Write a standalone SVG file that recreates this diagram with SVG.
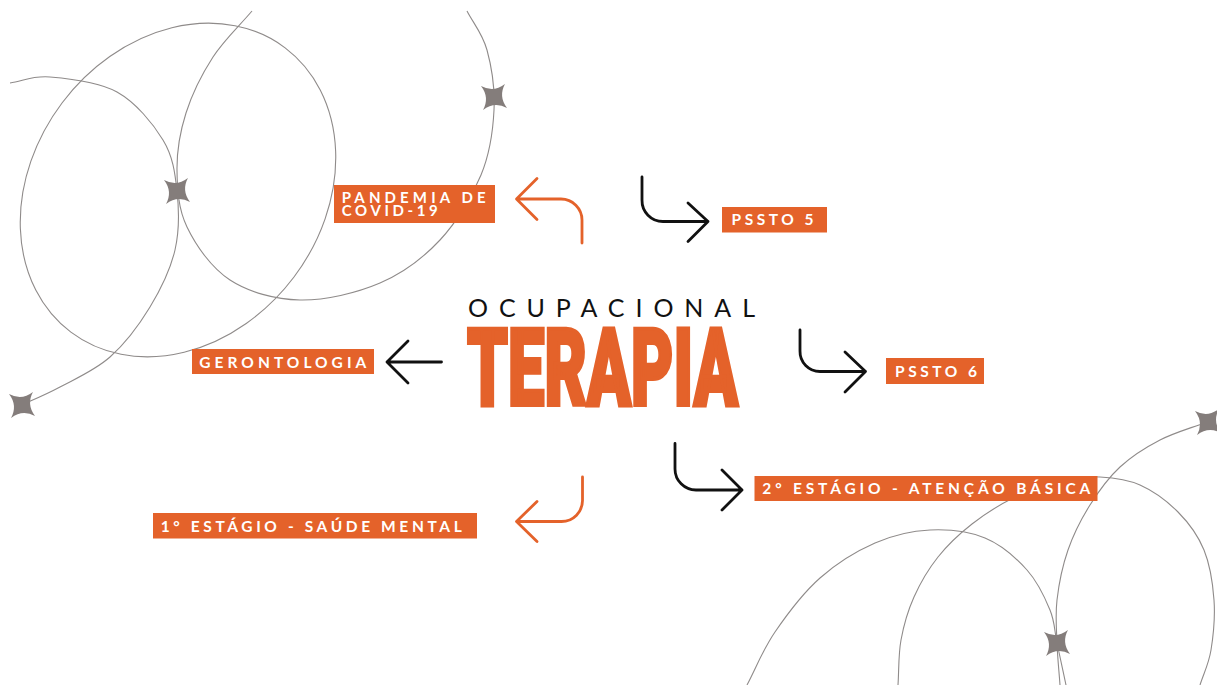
<svg xmlns="http://www.w3.org/2000/svg" width="1217" height="685" viewBox="0 0 1217 685">
<defs>
<style>
.deco{fill:none;stroke:#8f8b8a;stroke-width:1.1}
.star{fill:#847d7b}
.box{fill:#e4622a}
.lbl{font-family:Lato,'Noto Sans','Liberation Sans',sans-serif;font-size:15.5px;font-weight:700;fill:#ffffff}
.ak{fill:none;stroke:#111111;stroke-width:2.8;stroke-linecap:round;stroke-linejoin:round}
.ao{fill:none;stroke:#e4622a;stroke-width:2.8;stroke-linecap:round;stroke-linejoin:round}
</style>
<path id="star" d="M17,0 Q3,3 0,17 Q-3,3 -17,0 Q-3,-3 0,-17 Q3,-3 17,0Z"/>
</defs>
<rect width="1217" height="685" fill="#ffffff"/>
<g id="decoration">
<path class="deco" d="M10,83 C23.3,81 32.2,75.5 50,77 C67.8,78.5 98.2,81.5 117,92 C135.8,102.5 153,123.5 163,140 C173,156.5 175,172.7 177,191 C179,209.3 179.5,230.7 175,250 C170.5,269.3 160.8,289.2 150,307 C139.2,324.8 125,343.7 110,357 C95,370.3 75.8,378.5 60,387 C44.2,395.5 30,401 15,408"/>
<ellipse class="deco" cx="0" cy="0" rx="178" ry="145" transform="translate(178,190) rotate(-53)"/>
<path class="deco" d="M252,11 C239,26.3 224,40 213,57 C202,74 192,94.2 186,113 C180,131.8 176.8,151 177,170 C177.2,189 178.2,208.7 187,227 C195.8,245.3 211.2,267.8 230,280 C248.8,292.2 275,299.5 300,300 C325,300.5 356.7,293 380,283 C403.3,273 423.2,258 440,240 C456.8,222 472,196.7 481,175 C490,153.3 493,130.8 494,110 C495,89.2 491.5,66.5 487,50 C482.5,33.5 473.7,24 467,11"/>
<path class="deco" d="M1207,422 C1191.3,428 1174.5,432.5 1160,440 C1145.5,447.5 1131.7,456.2 1120,467 C1108.3,477.8 1098.7,491.2 1090,505 C1081.3,518.8 1073.5,534.2 1068,550 C1062.5,565.8 1058.8,584.5 1057,600 C1055.2,615.5 1056.5,628.8 1057,643 C1057.5,657.2 1059,671 1060,685"/>
<path class="deco" d="M898,685 C899,670 898.3,654.7 901,640 C903.7,625.3 907.8,610.8 914,597 C920.2,583.2 928.3,569.2 938,557 C947.7,544.8 959.2,534 972,524 C984.8,514 1000.3,504.3 1015,497 C1029.7,489.7 1045.8,483.3 1060,480 C1074.2,476.7 1086.7,476.2 1100,477 C1113.3,477.8 1127,479.2 1140,485 C1153,490.8 1167.3,501.2 1178,512 C1188.7,522.8 1198,535.3 1204,550 C1210,564.7 1212.8,583.3 1214,600 C1215.2,616.7 1213.3,635.8 1211,650 C1208.7,664.2 1203.7,673.3 1200,685"/>
<path class="deco" d="M747,685 C756.3,667.3 762.8,649.8 775,632 C787.2,614.2 803.3,592.8 820,578 C836.7,563.2 856.7,551 875,543 C893.3,535 911.7,530.8 930,530 C948.3,529.2 968.8,531.3 985,538 C1001.2,544.7 1016.2,558 1027,570 C1037.8,582 1045,597.8 1050,610 C1055,622.2 1054.3,630.5 1057,643 C1059.7,655.5 1063,671 1066,685"/>
<use href="#star" class="star" transform="translate(177,191) rotate(40)"/>
<use href="#star" class="star" transform="translate(494,97) rotate(40)"/>
<use href="#star" class="star" transform="translate(22,405) rotate(40)"/>
<use href="#star" class="star" transform="translate(1057,643) rotate(40)"/>
<use href="#star" class="star" transform="translate(1208,422) rotate(40)"/>
</g>
<g id="connectors">
<path class="ao" d="M582,243 V220 A21,21 0 0 0 561,199 H517 M537,178.5 L516.5,199 L537,219.5"/>
<path class="ak" d="M642,177 V200 A21,21 0 0 0 663,221.5 H708 M688,203 L708,221.5 L688,241.5"/>
<path class="ak" d="M441.5,362 H387 M408,341 L387,362 L408,383"/>
<path class="ak" d="M800,330 V351 A20,20 0 0 0 820,371.5 H865.5 M845,352 L865.5,371.5 L845,392"/>
<path class="ak" d="M675,443.5 V469 A21,21 0 0 0 696,490 H742 M722,470 L742,490 L722,510"/>
<path class="ao" d="M582.5,477 V500 A21,21 0 0 1 561.5,521.5 H517 M537,501.5 L516.5,521.5 L537,541.5"/>
</g>
<g id="title">
<text x="468" y="316.7" textLength="287" lengthAdjust="spacing" style="font-family:Lato,'Noto Sans','Liberation Sans',sans-serif;font-size:25px;fill:#111111">OCUPACIONAL</text>
<text x="467" y="404.5" textLength="271" lengthAdjust="spacingAndGlyphs" style="font-family:Roboto,'Liberation Sans',sans-serif;font-size:107px;font-weight:900;fill:#e4622a;stroke:#e4622a;stroke-width:4">TERAPIA</text>
</g>
<g id="node-pandemia">
<rect class="box" x="334" y="185" width="161" height="38"/>
<text class="lbl" x="341.7" y="203.3" textLength="144" lengthAdjust="spacing" style="font-size:15px">PANDEMIA DE</text>
<text class="lbl" x="341.7" y="215.7" textLength="96" lengthAdjust="spacing" style="font-size:15px">COVID-19</text>
</g>
<g id="node-pssto5">
<rect class="box" x="722" y="207" width="105" height="25.5"/>
<text class="lbl" x="731.5" y="225" textLength="82" lengthAdjust="spacing">PSSTO 5</text>
</g>
<g id="node-gerontologia">
<rect class="box" x="192" y="349" width="182" height="25"/>
<text class="lbl" x="199.3" y="368.3" textLength="167" lengthAdjust="spacing">GERONTOLOGIA</text>
</g>
<g id="node-pssto6">
<rect class="box" x="886" y="358" width="98" height="26"/>
<text class="lbl" x="895" y="376.7" textLength="82" lengthAdjust="spacing">PSSTO 6</text>
</g>
<g id="node-estagio1">
<rect class="box" x="153" y="513" width="324" height="25.5"/>
<text class="lbl" x="160.7" y="531.7" textLength="301" lengthAdjust="spacing">1° ESTÁGIO - SAÚDE MENTAL</text>
</g>
<g id="node-estagio2">
<rect class="box" x="754.5" y="476" width="343" height="25"/>
<text class="lbl" x="762.3" y="494" textLength="328" lengthAdjust="spacing">2° ESTÁGIO - ATENÇÃO BÁSICA</text>
</g>
</svg>
